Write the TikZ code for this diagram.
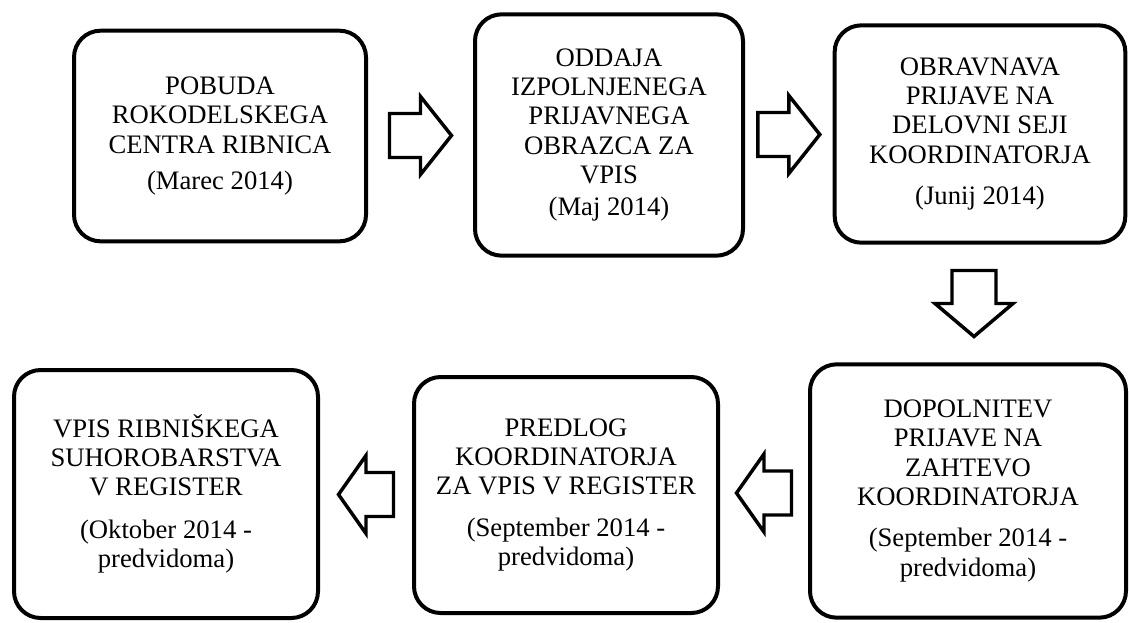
\documentclass[tikz,border=0pt]{standalone}
\usepackage{fontspec}
\setmainfont{Liberation Serif}
\usetikzlibrary{calc}

\tikzset{
  stage/.style={draw, line width=3pt, rounded corners=20pt, align=center,
    inner sep=0pt, font=\fontsize{20}{22}\selectfont},
  arrowline/.style={draw, line width=2.6pt, fill=white},
  pics/blockarrow/.style={code={
    \draw[arrowline] (-#1/2,-22) -- (0,-22) -- (0,-39) -- (#1/2,0)
      -- (0,39) -- (0,22) -- (-#1/2,22) -- cycle;
  }}
}

\begin{document}
\begin{tikzpicture}[x=0.75pt, y=-0.75pt]
        % Page frame
        \useasboundingbox (0,0) rectangle (1129,622);

        % Top row, left to right
        \node[stage, minimum width=219pt, minimum height=158pt] (pobuda) at (220,136) {
            POBUDA\\ ROKODELSKEGA\\ CENTRA RIBNICA\\[5pt] (Marec 2014)
        };
        \node[stage, minimum width=201pt, minimum height=181pt] (oddaja) at (609,135) {
            ODDAJA\\ IZPOLNJENEGA\\ PRIJAVNEGA\\ OBRAZCA ZA\\ VPIS\\[2pt] (Maj 2014)
        };
        \node[stage, minimum width=218pt, minimum height=163pt] (obravnava) at (980,134) {
            OBRAVNAVA\\ PRIJAVE NA\\ DELOVNI SEJI\\ KOORDINATORJA\\[9pt] (Junij 2014)
        };

        % Bottom row, right to left
        \node[stage, minimum width=237pt, minimum height=190pt] (dopolnitev) at (968,491) {
            DOPOLNITEV\\ PRIJAVE NA\\ ZAHTEVO\\ KOORDINATORJA\\[9pt] (September 2014 -\\ predvidoma)
        };
        \node[stage, minimum width=228pt, minimum height=177pt] (predlog) at (566,495) {
            PREDLOG\\ KOORDINATORJA\\ ZA VPIS V REGISTER\\[9pt] (September 2014 -\\ predvidoma)
        };
        \node[stage, minimum width=228pt, minimum height=186pt] (vpis) at (166,494) {
            VPIS RIBNIŠKEGA\\ SUHOROBARSTVA\\ V REGISTER\\[10pt] (Oktober 2014 -\\ predvidoma)
        };

        % Block arrows between the stages
        \pic at ($(pobuda.east)!0.5!(oddaja.west)$) {blockarrow=62};
        \pic at ($(oddaja.east)!0.5!(obravnava.west)$) {blockarrow=62};
        \pic[rotate=-90] at ($(obravnava.south)!0.5!(dopolnitev.north)$) {blockarrow=66};
        \pic[rotate=180] at ($(dopolnitev.west)!0.5!(predlog.east)$) {blockarrow=55};
        \pic[rotate=180] at ($(predlog.west)!0.5!(vpis.east)$) {blockarrow=55};
\end{tikzpicture}
\end{document}
